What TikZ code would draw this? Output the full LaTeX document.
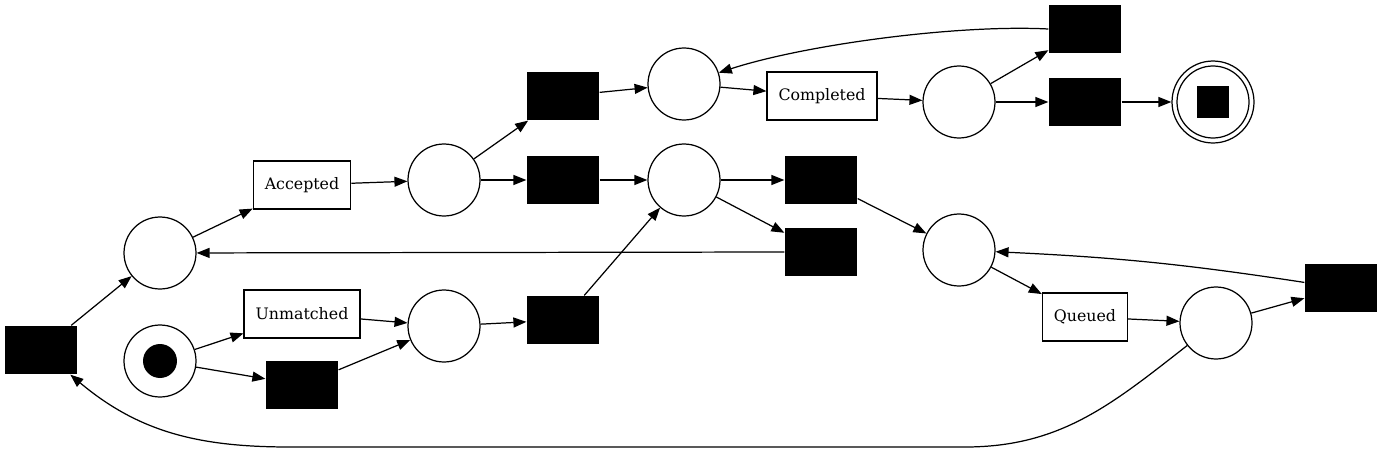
\documentclass[tikz,border=0pt]{standalone}
\usepackage{fontspec}
\setmainfont{DejaVu Serif}
\usetikzlibrary{arrows.meta}

\begin{document}
\begin{tikzpicture}[x=0.02cm,y=0.02cm,line width=0.7pt,
  place/.style={draw,circle,minimum size=1.44cm,inner sep=0pt},
  silent/.style={fill=black,minimum width=1.44cm,minimum height=0.96cm,inner sep=0pt},
  task/.style={draw,rectangle,minimum height=0.96cm,inner xsep=0.23cm,font=\fontsize{9}{11}\selectfont},
  arc/.style={-{Triangle[length=0.26cm,width=0.2cm]}}]

\useasboundingbox (0,0) rectangle (1383,-453);

% places
\node[place] (start) at (160,-361) {};
\node[fill=black,circle,minimum size=0.68cm,inner sep=0pt] (token) at (start) {};
\node[place] (p1) at (160,-253) {};
\node[place] (p2) at (444,-180) {};
\node[place] (p3) at (444,-326) {};
\node[place] (p4) at (684,-84) {};
\node[place] (p5) at (684,-180) {};
\node[place] (p6) at (959,-102) {};
\node[place] (p7) at (959,-250) {};
\node[place] (p8) at (1216,-323) {};
\node[place,minimum size=1.64cm] (final) at (1213,-102) {};
\draw (final) circle (36);
\node[fill=black,minimum size=0.64cm,inner sep=0pt] (finalmark) at (final) {};

% transitions
\node[task] (accepted) at (302,-185) {Accepted};
\node[task] (unmatched) at (302,-314) {Unmatched};
\node[task] (completed) at (822,-96) {Completed};
\node[task] (queued) at (1085,-317) {Queued};
\node[silent] (tau1) at (41,-350) {};
\node[silent] (tau2) at (302,-385) {};
\node[silent] (tau3) at (563,-320) {};
\node[silent] (tau4) at (563,-96) {};
\node[silent] (tau5) at (563,-180) {};
\node[silent] (tau6) at (821,-180) {};
\node[silent] (tau7) at (821,-252) {};
\node[silent] (tau8) at (1085,-29) {};
\node[silent] (tau9) at (1085,-102) {};
\node[silent] (tau10) at (1341,-288) {};

% arcs
\draw[arc] (start) -- (unmatched);
\draw[arc] (start) -- (tau2);
\draw[arc] (unmatched) -- (p3);
\draw[arc] (tau2) -- (p3);
\draw[arc] (p3) -- (tau3);
\draw[arc] (tau3) -- (p5);
\draw[arc] (tau1) -- (p1);
\draw[arc] (p1) -- (accepted);
\draw[arc] (accepted) -- (p2);
\draw[arc] (p2) -- (tau4);
\draw[arc] (p2) -- (tau5);
\draw[arc] (tau4) -- (p4);
\draw[arc] (tau5) -- (p5);
\draw[arc] (p4) -- (completed);
\draw[arc] (completed) -- (p6);
\draw[arc] (p6) -- (tau8);
\draw[arc] (p6) -- (tau9);
\draw[arc] (tau9) -- (final);
\draw[arc] (tau8.west) to[out=177,in=18,looseness=0.7] (p4);
\draw[arc] (p5) -- (tau6);
\draw[arc] (p5) -- (tau7);
\draw[arc] (tau7.west) -- (p1);
\draw[arc] (tau6) -- (p7);
\draw[arc] (p7) -- (queued);
\draw[arc] (queued) -- (p8);
\draw[arc] (p8) -- (tau10);
\draw[arc] (tau10) to[bend right=3] (p7);
\draw[arc] (p8) to[out=-142,in=0] (965,-447) -- (290,-447) to[out=180,in=-40] (tau1);
\end{tikzpicture}
\end{document}
